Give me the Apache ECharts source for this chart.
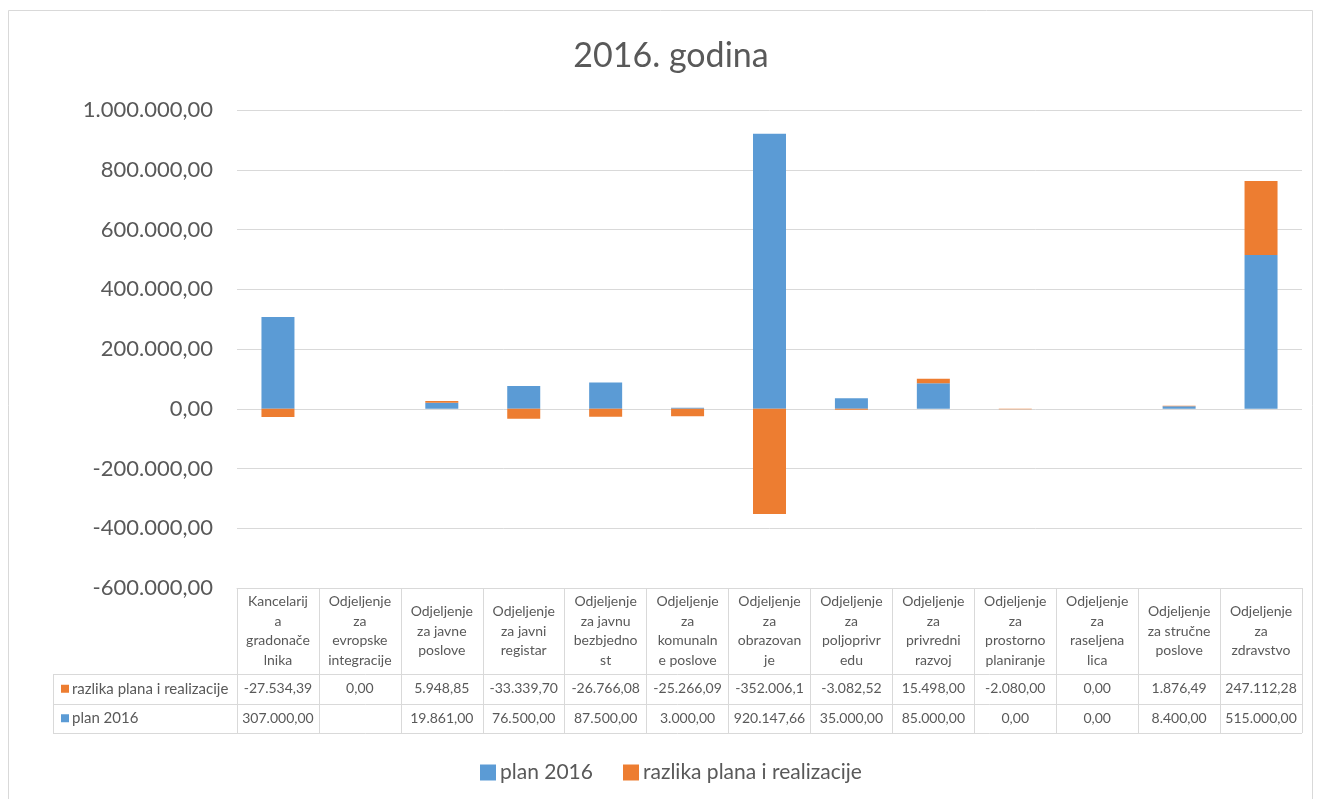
<!DOCTYPE html>
<html>
<head>
<meta charset="utf-8">
<title>2016. godina</title>
<script src="https://cdn.jsdelivr.net/npm/echarts@6/dist/echarts.min.js"></script>
<style>
html, body { margin: 0; padding: 0; background: #ffffff; }
#main { width: 1322px; height: 799px; }
</style>
</head>
<body>
<div id="main"></div>
<script>
// Categories (line breaks as shown in the data table header)
const categories = [
	'Kancelarij\na\ngradonače\nlnika',
	'Odjeljenje\nza\nevropske\nintegracije',
	'Odjeljenje\nza javne\nposlove',
	'Odjeljenje\nza javni\nregistar',
	'Odjeljenje\nza javnu\nbezbjedno\nst',
	'Odjeljenje\nza\nkomunaln\ne poslove',
	'Odjeljenje\nza\nobrazovan\nje',
	'Odjeljenje\nza\npoljoprivr\nedu',
	'Odjeljenje\nza\nprivredni\nrazvoj',
	'Odjeljenje\nza\nprostorno\nplaniranje',
	'Odjeljenje\nza\nraseljena\nlica',
	'Odjeljenje\nza stručne\nposlove',
	'Odjeljenje\nza\nzdravstvo'
];
const plan2016 = [307000, null, 19861, 76500, 87500, 3000, 920147.66, 35000, 85000, 0, 0, 8400, 515000];
const razlika = [-27534.39, 0, 5948.85, -33339.7, -26766.08, -25266.09, -352006.1, -3082.52, 15498, -2080, 0, 1876.49, 247112.28];
const seriesNames = ['plan 2016', 'razlika plana i realizacije'];
const yMin = -600000;
const yMax = 1000000;
const yStep = 200000;

const blue = '#5B9BD5';
const orange = '#ED7D31';
const textColor = '#595959';
const lineColor = '#D9D9D9';
const font = 'Lato, "Open Sans", sans-serif';

// Grid in pixels so the data table can be drawn against it
const grid = { left: 237, right: 20, top: 110, bottom: 211 };
const gridBottomY = 799 - grid.bottom;
const headerH = 86;
const rowH = 29.5;

// 1234567.891 -> 1.234.567,89
function fmt(v) {
	if (v === null || v === undefined) return '';
	const neg = v < 0;
	let parts = Math.abs(v).toFixed(2).split('.');
	let intPart = parts[0].replace(/\B(?=(\d{3})+(?!\d))/g, '.');
	return (neg ? '-' : '') + intPart + ',' + parts[1];
}

const myChart = echarts.init(document.getElementById('main'), null, { renderer: 'canvas' });

const option = {
	animation: false,
	backgroundColor: '#ffffff',
	textStyle: { fontFamily: font },
	title: {
		text: '2016. godina',
		left: 666,
		top: 34,
		textAlign: 'center',
		textStyle: { fontFamily: font, fontSize: 34, fontWeight: 'normal', color: textColor }
	},
	legend: {
		data: seriesNames,
		left: 475,
		top: 757,
		icon: 'rect',
		itemWidth: 16,
		itemHeight: 16,
		itemGap: 30,
		textStyle: { fontFamily: font, fontSize: 21, color: textColor, padding: [0, 0, 0, -1] }
	},
	grid: grid,
	xAxis: {
		type: 'category',
		data: categories,
		axisLine: { onZero: false, lineStyle: { color: lineColor } },
		axisTick: {
			show: true,
			interval: 0,
			length: headerH + rowH * 2,
			lineStyle: { color: lineColor }
		},
		axisLabel: {
			interval: 0,
			margin: headerH / 2,
			verticalAlign: 'middle',
			align: 'center',
			fontFamily: font,
			fontSize: 14,
			lineHeight: 19.5,
			color: textColor
		}
	},
	yAxis: {
		type: 'value',
		min: yMin,
		max: yMax,
		interval: yStep,
		axisLine: { show: false },
		axisTick: { show: false },
		splitLine: { lineStyle: { color: lineColor } },
		axisLabel: {
			margin: 24,
			fontFamily: font,
			fontSize: 22,
			color: textColor,
			formatter: function (v) {
				return fmt(v);
			}
		}
	},
	series: [
		{
			name: seriesNames[0],
			type: 'bar',
			stack: 'total',
			barWidth: 33,
			itemStyle: { color: blue },
			data: plan2016
		},
		{
			name: seriesNames[1],
			type: 'bar',
			stack: 'total',
			barWidth: 33,
			itemStyle: { color: orange },
			data: razlika
		}
	]
};
myChart.setOption(option);

// Data table rows drawn below the axis
const tableLeft = 53;
const tableRight = 1322 - grid.right;
const row1Top = gridBottomY + headerH;
const row2Top = row1Top + rowH;
const tableBottom = row2Top + rowH;
const graphics = [];

// outer chart border
graphics.push({
	type: 'rect',
	shape: { x: 8.5, y: 10.5, width: 1304, height: 800 },
	style: { fill: 'none', stroke: lineColor, lineWidth: 1 },
	silent: true
});

[row1Top, row2Top, tableBottom].forEach(function (y) {
	graphics.push({
		type: 'line',
		shape: { x1: tableLeft, y1: Math.round(y) + 0.5, x2: tableRight, y2: Math.round(y) + 0.5 },
		style: { stroke: lineColor, lineWidth: 1 },
		silent: true
	});
});
graphics.push({
	type: 'line',
	shape: { x1: tableLeft + 0.5, y1: row1Top, x2: tableLeft + 0.5, y2: tableBottom },
	style: { stroke: lineColor, lineWidth: 1 },
	silent: true
});

const tableRows = [
	{ name: seriesNames[1], color: orange, values: razlika, top: row1Top },
	{ name: seriesNames[0], color: blue, values: plan2016, top: row2Top }
];

tableRows.forEach(function (row) {
	const cy = row.top + rowH / 2;
	graphics.push({
		type: 'rect',
		shape: { x: tableLeft + 8, y: cy - 4, width: 8, height: 8 },
		style: { fill: row.color },
		silent: true
	});
	graphics.push({
		type: 'text',
		x: tableLeft + 19,
		y: cy,
		style: { text: row.name, fontFamily: font, fontSize: 15, fill: textColor, verticalAlign: 'middle', align: 'left' },
		silent: true
	});
	row.values.forEach(function (v, i) {
		const cx = myChart.convertToPixel({ xAxisIndex: 0 }, i);
		graphics.push({
			type: 'text',
			x: cx,
			y: cy,
			// Excel clips the cell text to the column width
			style: { text: fmt(v).slice(0, 10), fontFamily: font, fontSize: 14, fill: textColor, verticalAlign: 'middle', align: 'center' },
			silent: true
		});
	});
});

myChart.setOption({ graphic: graphics });
</script>
</body>
</html>
